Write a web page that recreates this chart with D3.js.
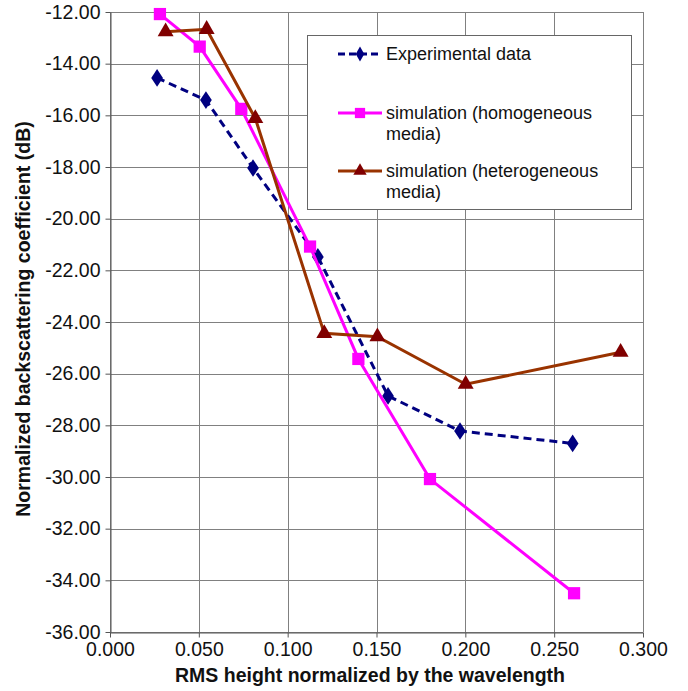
<!DOCTYPE html>
<html>
<head>
<meta charset="UTF-8">
<script src="https://d3js.org/d3.v7.min.js"></script>
<style>
  body { margin: 0; background: #fff; }
  svg { display: block; font-family: "Liberation Sans", Arial, sans-serif; }
  .grid line { stroke: #808080; stroke-width: 1; }
  .axis path, .axis line { stroke: #555; }
  .axis text { font-size: 19.5px; fill: #111; }
  .title { font-size: 19.5px; font-weight: bold; fill: #111; }
  .legend text { font-size: 18px; fill: #111; }
</style>
</head>
<body>
<svg id="chart" width="688" height="691"></svg>
<script>
// data
const expX = [0.0265, 0.054, 0.0805, 0.117, 0.1565, 0.197, 0.2604];
const expY = [-14.55, -15.41, -18.04, -21.48, -26.86, -28.22, -28.70];
const homX = [0.0281, 0.0505, 0.0739, 0.1126, 0.1398, 0.1801, 0.2612];
const homY = [-12.08, -13.34, -15.75, -21.08, -25.43, -30.08, -34.50];
const hetX = [0.0313, 0.0544, 0.0818, 0.1206, 0.1505, 0.2002, 0.2874];
const hetY = [-12.76, -12.67, -16.12, -24.44, -24.57, -26.41, -25.17];
const xTicks = [0, 0.05, 0.1, 0.15, 0.2, 0.25, 0.3];
const yTicks = d3.range(-36, -11, 2);

const series = [
  { name: ["Experimental data"], xs: expX, ys: expY, line: "#000080", mark: "#000080", shape: d3.symbolDiamond, size: 90, dash: "8,5" },
  { name: ["simulation (homogeneous", "media)"], xs: homX, ys: homY, line: "#ff00ff", mark: "#ff00ff", shape: d3.symbolSquare, size: 150, dash: null },
  { name: ["simulation (heterogeneous", "media)"], xs: hetX, ys: hetY, line: "#993300", mark: "#800000", shape: d3.symbolTriangle, size: 110, dash: null }
];

const margin = { left: 110, top: 12, right: 45, bottom: 59 };
const W = 688, H = 691;
const svg = d3.select("#chart");

const x = d3.scaleLinear().domain([0, 0.3]).range([margin.left, W - margin.right]);
const y = d3.scaleLinear().domain([-36, -12]).range([H - margin.bottom, margin.top]);

// grid
const grid = svg.append("g").attr("class", "grid");
grid.selectAll(".gx").data(xTicks).enter().append("line")
  .attr("x1", d => Math.round(x(d)) + 0.5).attr("x2", d => Math.round(x(d)) + 0.5)
  .attr("y1", y(-12)).attr("y2", y(-36));
grid.selectAll(".gy").data(yTicks).enter().append("line")
  .attr("y1", d => Math.round(y(d)) + 0.5).attr("y2", d => Math.round(y(d)) + 0.5)
  .attr("x1", x(0)).attr("x2", x(0.3));

// axes
svg.append("g").attr("class", "axis")
  .attr("transform", `translate(0,${Math.round(y(-36)) + 0.5})`)
  .call(d3.axisBottom(x).tickValues(xTicks).tickFormat(d => d.toFixed(3)).tickSize(5).tickPadding(5).tickSizeOuter(0));
svg.append("g").attr("class", "axis")
  .attr("transform", `translate(${Math.round(x(0)) + 0.5},0)`)
  .call(d3.axisLeft(y).tickValues(yTicks).tickFormat(d => d.toFixed(2)).tickSize(5).tickPadding(5).tickSizeOuter(0));

// axis titles
svg.append("text").attr("class", "title")
  .attr("x", 370).attr("y", 682).attr("text-anchor", "middle")
  .text("RMS height normalized by the wavelength");
svg.append("text").attr("class", "title")
  .attr("transform", "translate(30,319) rotate(-90)").attr("text-anchor", "middle")
  .text("Normalized backscattering coefficient (dB)");

// series
const line = d3.line().x(d => x(d[0])).y(d => y(d[1]));
series.forEach(s => {
  const pts = s.xs.map((v, i) => [v, s.ys[i]]);
  svg.append("path").datum(pts)
    .attr("d", line).attr("fill", "none")
    .attr("stroke", s.line).attr("stroke-width", 3)
    .attr("stroke-dasharray", s.dash);
  svg.selectAll(null).data(pts).enter().append("path")
    .attr("d", d3.symbol().type(s.shape).size(s.size))
    .attr("transform", d => `translate(${x(d[0])},${y(d[1])})` + (s.shape === d3.symbolDiamond ? " scale(1.15,1)" : ""))
    .attr("fill", s.mark);
});

// legend
const lg = svg.append("g").attr("class", "legend");
lg.append("rect").attr("x", 307.5).attr("y", 35.5).attr("width", 324).attr("height", 174)
  .attr("fill", "#fff").attr("stroke", "#666");
const rowY = [54, 113, 171];
series.forEach((s, i) => {
  const g = lg.append("g").attr("transform", `translate(0,${rowY[i]})`);
  g.append("line").attr("x1", 338).attr("x2", 382).attr("y1", 0).attr("y2", 0)
    .attr("stroke", s.line).attr("stroke-width", 3).attr("stroke-dasharray", s.dash ? "7,4" : null);
  g.append("path").attr("d", d3.symbol().type(s.shape).size(s.size * 0.7))
    .attr("transform", "translate(360,0)").attr("fill", s.mark);
  s.name.forEach((t, j) => {
    g.append("text").attr("x", 386).attr("y", 6 + j * 21).text(t);
  });
});
</script>
</body>
</html>
